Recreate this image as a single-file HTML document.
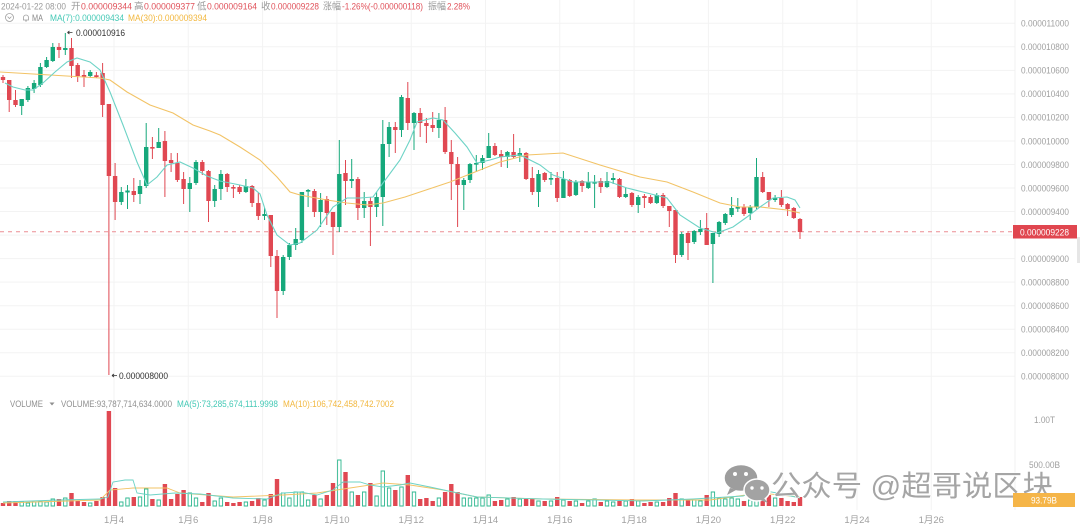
<!DOCTYPE html>
<html><head><meta charset="utf-8"><style>
html,body{margin:0;padding:0;background:#fff;}
svg{display:block;}
text{font-family:"Liberation Sans","Noto Sans CJK SC",sans-serif;}
</style></head><body>
<svg width="1080" height="525" viewBox="0 0 1080 525" xmlns="http://www.w3.org/2000/svg">
<rect width="1080" height="525" fill="#fff"/>
<!-- grid -->
<g stroke="#f3f3f3" stroke-width="1">
<path d="M0 23.3H1015M0 46.8H1015M0 70.4H1015M0 93.9H1015M0 117.4H1015M0 141H1015M0 164.5H1015M0 188H1015M0 211.5H1015M0 235.1H1015M0 258.6H1015M0 282.1H1015M0 305.7H1015M0 329.2H1015M0 352.7H1015M0 376.3H1015"/>
<path d="M114 0V510M188.3 0V510M262.6 0V510M336.9 0V510M411.2 0V510M485.5 0V510M559.8 0V510M634.1 0V510M708.4 0V510M782.7 0V510M857 0V510M931.3 0V510"/>
</g>
<line x1="1015" y1="0" x2="1015" y2="510" stroke="#f0f0f0"/>

<!-- header -->
<g font-size="9.5">
<text x="1" y="9.5" fill="#9a9a9a" textLength="65" lengthAdjust="spacingAndGlyphs">2024-01-22 08:00</text>
<text x="71" y="9.5" fill="#9a9a9a">开</text>
<text x="81" y="9.5" fill="#e0515a" textLength="51" lengthAdjust="spacingAndGlyphs">0.000009344</text>
<text x="134" y="9.5" fill="#9a9a9a">高</text>
<text x="144" y="9.5" fill="#e0515a" textLength="51" lengthAdjust="spacingAndGlyphs">0.000009377</text>
<text x="197" y="9.5" fill="#9a9a9a">低</text>
<text x="207" y="9.5" fill="#e0515a" textLength="50" lengthAdjust="spacingAndGlyphs">0.000009164</text>
<text x="261" y="9.5" fill="#9a9a9a">收</text>
<text x="271" y="9.5" fill="#e0515a" textLength="48" lengthAdjust="spacingAndGlyphs">0.000009228</text>
<text x="323" y="9.5" fill="#9a9a9a" textLength="18" lengthAdjust="spacingAndGlyphs">涨幅</text>
<text x="342" y="9.5" fill="#e0515a" textLength="81" lengthAdjust="spacingAndGlyphs">-1.26%(-0.000000118)</text>
<text x="428" y="9.5" fill="#9a9a9a" textLength="18" lengthAdjust="spacingAndGlyphs">振幅</text>
<text x="447" y="9.5" fill="#e0515a" textLength="23" lengthAdjust="spacingAndGlyphs">2.28%</text>
</g>
<circle cx="9.5" cy="17.5" r="4" fill="none" stroke="#a0a0a0" stroke-width="0.8"/>
<path d="M7.6 16.6L9.5 18.5L11.4 16.6" fill="none" stroke="#a0a0a0" stroke-width="0.8"/>
<path d="M23.5 20V17.5A2.5 2.5 0 0 1 28.5 17.5V20H23M25 21H27" fill="none" stroke="#a0a0a0" stroke-width="0.8"/>
<g font-size="9.5">
<text x="32" y="20.8" fill="#8a8a8a" textLength="11" lengthAdjust="spacingAndGlyphs">MA</text>
<text x="50" y="20.8" fill="#45c9b6" textLength="74" lengthAdjust="spacingAndGlyphs">MA(7):0.000009434</text>
<text x="128" y="20.8" fill="#f2b840" textLength="79" lengthAdjust="spacingAndGlyphs">MA(30):0.000009394</text>
</g>

<!-- current price dashed line -->
<line x1="0" y1="231.8" x2="1013" y2="231.8" stroke="#ec8d93" stroke-width="1" stroke-dasharray="4 4"/>

<!-- candles -->
<g fill="none" stroke-linecap="butt">
<path stroke="#e04852" stroke-width="1" d="M3 75V83M9.2 80V112M15.5 90V107M59 43V58M71.5 38V78M77.7 63V82M84 70V87M96.4 72V78M102.6 63V117M108.9 104V375M115.1 163V220M133.8 178V202M152.4 137V159M164.9 131V197M171.1 153V172M177.4 153V182M183.6 172V204M202.3 160V175M208.5 170V222M227.2 173V192M233.4 185V198M239.6 185V194M252.1 185V207M258.3 193V220M270.8 215V267M277 250V318M314.4 189V217M326.8 196V225M333 212V255M345.5 160V205M357.9 177V220M370.4 197V246M395.3 122V153M407.8 82V130M420.2 108V137M426.4 118V143M432.7 112V132M445.1 107V154M451.3 140V200M457.6 157V227M494.9 143V156M501.2 150V167M513.6 134V158M526.1 152V180M532.3 167V195M544.7 172V182M557.2 172V202M569.7 179V197M582.1 180V192M600.8 178V193M619.5 178V198M631.9 192V207M644.4 194V208M650.6 195V204M663.1 193V208M669.3 206V227M675.5 210V263M688 231V260M706.7 213V245M744 204V216M762.7 172V193M768.9 192V207M781.4 190V207M787.6 203V216M793.8 207V219M800 218V239"/>
<path stroke="#e04852" stroke-width="4.4" d="M3 77V80M9.2 80V100M15.5 100V105M59 47V50M71.5 48V66M77.7 65V76M84 75V77M96.4 75.3V77M102.6 73V105M108.9 104V176M115.1 176V202M133.8 191V195M152.4 147V148.6M164.9 141V161M171.1 160V163M177.4 163V180M183.6 179V189M202.3 162V171M208.5 171V201M227.2 174V187M233.4 187V188.6M239.6 187V192M252.1 186V203M258.3 203V216M270.8 215V256M277 256V291M314.4 191V212M326.8 199V213M333 212V227M345.5 173V181M357.9 179V208M370.4 201V207M395.3 127V130M407.8 98V123M420.2 113V123M426.4 123V126M432.7 125V128M445.1 120V152M451.3 152V164M457.6 164V185M494.9 146V155M501.2 154V157M513.6 152V157M526.1 153V179M532.3 178V192M544.7 173V180M557.2 178V198M569.7 180V196M582.1 181V186M600.8 181V187M619.5 179V197M631.9 193V205M644.4 196V198M650.6 197V203M663.1 195V206M669.3 206V211M675.5 210V255M688 233V243M706.7 228V245M744 207V214M762.7 177V192M768.9 192V200M781.4 198V205M787.6 204V209M793.8 208V218M800 219V232"/>
<path stroke="#16a87b" stroke-width="1" d="M21.7 99V115M27.9 86V102M34.1 80V93M40.4 63V87M46.6 57V68M52.8 43V62M65.3 33V55M90.2 70V78M121.3 187V205M127.5 185V209M140 180V204M146.2 123V188M158.7 128V148M189.8 177V212M196 160V185M214.7 185V207M220.9 170V200M245.9 179V193M264.5 208V220M283.2 255V295M289.4 243V260M295.7 228V250M301.9 192V243M308.1 189V207M320.6 193V227M339.3 140V232M351.7 159V188M364.2 192V218M376.6 192V217M382.8 120V226M389.1 122V157M401.5 95V137M414 112V150M438.9 113V138M463.8 178V210M470 163V183M476.3 155V172M482.5 155V170M488.7 133V158M507.4 151V168M519.8 148V162M538.5 170V207M551 172V185M563.4 171V198M575.9 180V196M588.3 172V189M594.6 175V208M607 172V188M613.2 173V184M625.7 188V198M638.2 195V213M656.8 193V204M681.7 232V257M694.2 230V244M700.4 220V235M712.9 233V283M719.1 221V237M725.3 213V225M731.6 197V217M737.8 198V212M750.2 205V220M756.5 158V209M775.1 195V202"/>
<path stroke="#16a87b" stroke-width="4.4" d="M21.7 99V106M27.9 88V100M34.1 83V89M40.4 67V85M46.6 60V67M52.8 47V61M65.3 48V50M90.2 72V76M121.3 192V202M127.5 190.5V192.5M140 186V194M146.2 147V186M158.7 142V148M189.8 183V189M196 162V183M214.7 189V201M220.9 174V189M245.9 186V192M264.5 214V216M283.2 257V291M289.4 245V257M295.7 239V245M301.9 192V240M308.1 190V191.6M320.6 200V212M339.3 174V227M351.7 179V181M364.2 201V208M376.6 197V207M382.8 144V197M389.1 127V144M401.5 97V130M414 113V123M438.9 120V128M463.8 180V185M470 164V180M476.3 163V164.6M482.5 158V163M488.7 146V158M507.4 152V157M519.8 153V156M538.5 174V192M551 178V179.6M563.4 179V198M575.9 182V195M588.3 182V188M594.6 182V183.6M607 181V187M613.2 178V180M625.7 194V197M638.2 197V205M656.8 195V203M681.7 234V255M694.2 231V242M700.4 229V232M712.9 233V244M719.1 222V234M725.3 214V223M731.6 208V215M737.8 207V208.6M750.2 207V213M756.5 177V207M775.1 198V200"/>
</g>

<!-- MA lines -->
<polyline fill="none" stroke="#f2c366" stroke-width="1.1" points="0,72 50,75 100,78 110,80 127,92 150,105 173,113 193,125 210,131 220,135 240,147 260,160 277,177 290,192 300,195 327,200 347,203 367,205 383,203 405,197 450,182 500,162 527,155 563,153 600,165 640,177 667,182 693,192 720,203 740,207 760,207 787,210 800,213"/>
<polyline fill="none" stroke="#6dd3c6" stroke-width="1.1" points="5,83 13,87 25,90 33,90 43,83 55,72 67,62 77,58 90,62 100,70 110,92 123,125 137,162 147,185 157,177 167,165 180,162 193,168 207,176 220,181 240,185 253,188 260,194 267,215 277,235 290,245 300,243 317,230 333,207 347,198 360,198 373,197 383,183 400,160 410,140 417,122 433,118 443,120 455,133 467,147 477,163 490,160 500,157 520,155 540,165 553,175 573,182 610,182 627,188 643,192 667,198 680,215 700,228 717,233 733,227 747,217 760,207 773,198 787,197 795,200 800,208"/>

<!-- high/low markers -->
<g font-size="9.5" fill="#333">
<path d="M67.5 32.5H72.5M67.5 32.5L69.5 31M67.5 32.5L69.5 34" stroke="#333" stroke-width="0.8" fill="none"/>
<text x="76" y="36" textLength="49" lengthAdjust="spacingAndGlyphs">0.000010916</text>
<path d="M112 375.5H117M112 375.5L114 374M112 375.5L114 377" stroke="#333" stroke-width="0.8" fill="none"/>
<text x="119" y="379" textLength="49" lengthAdjust="spacingAndGlyphs">0.000008000</text>
</g>

<!-- price axis labels -->
<g font-size="9.3" fill="#a0a0a0">
<text x="1021" y="26.6" textLength="48" lengthAdjust="spacingAndGlyphs">0.000011000</text>
<text x="1021" y="50.1" textLength="48" lengthAdjust="spacingAndGlyphs">0.000010800</text>
<text x="1021" y="73.7" textLength="48" lengthAdjust="spacingAndGlyphs">0.000010600</text>
<text x="1021" y="97.2" textLength="48" lengthAdjust="spacingAndGlyphs">0.000010400</text>
<text x="1021" y="120.7" textLength="48" lengthAdjust="spacingAndGlyphs">0.000010200</text>
<text x="1021" y="144.3" textLength="48" lengthAdjust="spacingAndGlyphs">0.000010000</text>
<text x="1021" y="167.8" textLength="48" lengthAdjust="spacingAndGlyphs">0.000009800</text>
<text x="1021" y="191.3" textLength="48" lengthAdjust="spacingAndGlyphs">0.000009600</text>
<text x="1021" y="214.8" textLength="48" lengthAdjust="spacingAndGlyphs">0.000009400</text>
<text x="1021" y="261.9" textLength="48" lengthAdjust="spacingAndGlyphs">0.000009000</text>
<text x="1021" y="285.4" textLength="48" lengthAdjust="spacingAndGlyphs">0.000008800</text>
<text x="1021" y="309" textLength="48" lengthAdjust="spacingAndGlyphs">0.000008600</text>
<text x="1021" y="332.5" textLength="48" lengthAdjust="spacingAndGlyphs">0.000008400</text>
<text x="1021" y="356" textLength="48" lengthAdjust="spacingAndGlyphs">0.000008200</text>
<text x="1021" y="379.6" textLength="48" lengthAdjust="spacingAndGlyphs">0.000008000</text>
</g>
<rect x="1013" y="225" width="64" height="13.5" fill="#e0464f"/>
<text x="1020" y="235.3" font-size="9.3" fill="#fff" textLength="49" lengthAdjust="spacingAndGlyphs">0.000009228</text>
<rect x="1077" y="237" width="3" height="26" fill="#e6e6e6"/>

<!-- volume header -->
<g font-size="9">
<text x="10" y="407" fill="#8f8f8f" textLength="33" lengthAdjust="spacingAndGlyphs">VOLUME</text>
<path d="M49.5 402.5H54.5L52 405.5Z" fill="#8f8f8f"/>
<text x="61" y="407" fill="#8f8f8f" textLength="111" lengthAdjust="spacingAndGlyphs">VOLUME:93,787,714,634.0000</text>
<text x="177" y="407" fill="#45c9b6" textLength="101" lengthAdjust="spacingAndGlyphs">MA(5):73,285,674,111.9998</text>
<text x="283" y="407" fill="#f2b840" textLength="111" lengthAdjust="spacingAndGlyphs">MA(10):106,742,458,742.7002</text>
</g>

<!-- volume bars -->
<path fill="none" stroke="#e04852" stroke-width="4.4" d="M3 506V503M9.2 506V501M15.5 506V501M59 506V499M71.5 506V493M77.7 506V501M84 506V502M96.4 506V501M102.6 506V497M108.9 506V411M115.1 506V488M133.8 506V497M152.4 506V499M164.9 506V484M171.1 506V499M177.4 506V494M183.6 506V490M202.3 506V502M208.5 506V493M227.2 506V502M233.4 506V503M239.6 506V502M252.1 506V501M258.3 506V498M270.8 506V494M277 506V479M314.4 506V495M326.8 506V495M333 506V483M345.5 506V472M357.9 506V495M370.4 506V483M395.3 506V490M407.8 506V475M420.2 506V499M426.4 506V498M432.7 506V501M445.1 506V492M451.3 506V484M457.6 506V492M494.9 506V501M501.2 506V500M513.6 506V497M526.1 506V499M532.3 506V499M544.7 506V501M557.2 506V497M569.7 506V501M582.1 506V503M600.8 506V502M619.5 506V501M631.9 506V499M644.4 506V503M650.6 506V502M663.1 506V502M669.3 506V498M675.5 506V493M688 506V500M706.7 506V495M744 506V501M762.7 506V484M768.9 506V495M781.4 506V498M787.6 506V501M793.8 506V502M800 506V497"/>
<path fill="none" stroke="#2fb890" stroke-width="0.9" d="M20 506V502H23.4V506ZM26.2 506V503H29.6V506ZM32.4 506V502H35.8V506ZM38.7 506V501H42.1V506ZM44.9 506V502H48.3V506ZM51.1 506V499H54.5V506ZM63.6 506V498H67V506ZM88.5 506V503H91.9V506ZM119.6 506V502H123V506ZM125.8 506V498H129.2V506ZM138.3 506V497H141.7V506ZM144.5 506V489H147.9V506ZM157 506V500H160.4V506ZM188.1 506V493H191.5V506ZM194.3 506V498H197.7V506ZM213 506V501H216.4V506ZM219.2 506V498H222.6V506ZM244.2 506V502H247.6V506ZM262.8 506V500H266.2V506ZM281.5 506V493H284.9V506ZM287.7 506V498H291.1V506ZM294 506V492H297.4V506ZM300.2 506V492H303.6V506ZM306.4 506V500H309.8V506ZM318.9 506V499H322.3V506ZM337.6 506V460H341V506ZM350 506V492H353.4V506ZM362.5 506V492H365.9V506ZM374.9 506V496H378.3V506ZM381.1 506V471H384.5V506ZM387.4 506V488H390.8V506ZM399.8 506V487H403.2V506ZM412.3 506V492H415.7V506ZM437.2 506V498H440.6V506ZM462.1 506V498H465.5V506ZM468.3 506V498H471.7V506ZM474.6 506V498H478V506ZM480.8 506V498H484.2V506ZM487 506V495H490.4V506ZM505.7 506V499H509.1V506ZM518.1 506V499H521.5V506ZM536.8 506V501H540.2V506ZM549.3 506V501H552.7V506ZM561.7 506V500H565.1V506ZM574.2 506V501H577.6V506ZM586.6 506V501H590V506ZM592.9 506V499H596.3V506ZM605.3 506V501H608.7V506ZM611.5 506V502H614.9V506ZM624 506V501H627.4V506ZM636.5 506V501H639.9V506ZM655.1 506V502H658.5V506ZM680 506V499H683.4V506ZM692.5 506V500H695.9V506ZM698.7 506V501H702.1V506ZM711.2 506V492H714.6V506ZM717.4 506V498H720.8V506ZM723.6 506V499H727V506ZM729.9 506V498H733.3V506ZM736.1 506V499H739.5V506ZM748.5 506V500H751.9V506ZM754.8 506V484H758.2V506ZM773.4 506V498H776.8V506Z"/>
<!-- volume MAs -->
<polyline fill="none" stroke="#f2c366" stroke-width="0.9" points="3,503 100,500 110,490 133,488 167,488 180,493 233,497 283,495 317,493 350,488 383,483 410,485 443,490 477,497 543,499 643,500 710,500 760,493 800,497"/>
<polyline fill="none" stroke="#6dd3c6" stroke-width="0.9" points="3,502 60,500 100,499 108,497 113,482 125,480 133,480 137,493 150,495 175,493 200,494 233,498 267,499 283,493 300,492 317,495 333,490 343,482 360,482 370,485 383,487 400,485 410,483 430,487 453,492 477,497 543,499 643,501 693,499 727,497 743,496 760,490 777,493 800,498"/>

<!-- volume axis -->
<g font-size="9" fill="#a0a0a0">
<text x="1034" y="423" textLength="21" lengthAdjust="spacingAndGlyphs">1.00T</text>
<text x="1029" y="468" textLength="31" lengthAdjust="spacingAndGlyphs">500.00B</text>
</g>

<!-- watermark -->
<g>
<ellipse cx="741" cy="478" rx="17" ry="13.5" fill="#9d9d9d" stroke="#fff" stroke-width="1.5"/>
<path d="M730 488L727 495L736 490Z" fill="#9d9d9d"/>
<circle cx="735" cy="474" r="2" fill="#fff"/><circle cx="746" cy="474" r="2" fill="#fff"/>
<ellipse cx="757" cy="490" rx="13" ry="11" fill="#a3a3a3" stroke="#fff" stroke-width="1.5"/>
<path d="M764 498L768 503L760 500Z" fill="#a3a3a3"/>
<circle cx="752" cy="488" r="1.7" fill="#fff"/><circle cx="762" cy="488" r="1.7" fill="#fff"/>
<text x="771" y="496" font-size="29" fill="#a5a5a5" stroke="#fff" stroke-width="1.2" paint-order="stroke" textLength="282" lengthAdjust="spacingAndGlyphs">公众号 @超哥说区块</text>
</g>
<rect x="1013" y="493" width="62" height="14" fill="#f5b548"/>
<text x="1031" y="503.3" font-size="9" fill="#fff" textLength="26" lengthAdjust="spacingAndGlyphs">93.79B</text>

<!-- x axis labels -->
<g font-size="9.5" fill="#a0a0a0" text-anchor="middle">
<text x="114" y="523">1月4</text>
<text x="188.3" y="523">1月6</text>
<text x="262.6" y="523">1月8</text>
<text x="336.9" y="523">1月10</text>
<text x="411.2" y="523">1月12</text>
<text x="485.5" y="523">1月14</text>
<text x="559.8" y="523">1月16</text>
<text x="634.1" y="523">1月18</text>
<text x="708.4" y="523">1月20</text>
<text x="782.7" y="523">1月22</text>
<text x="857" y="523">1月24</text>
<text x="931.3" y="523">1月26</text>
</g>
</svg>
</body></html>
